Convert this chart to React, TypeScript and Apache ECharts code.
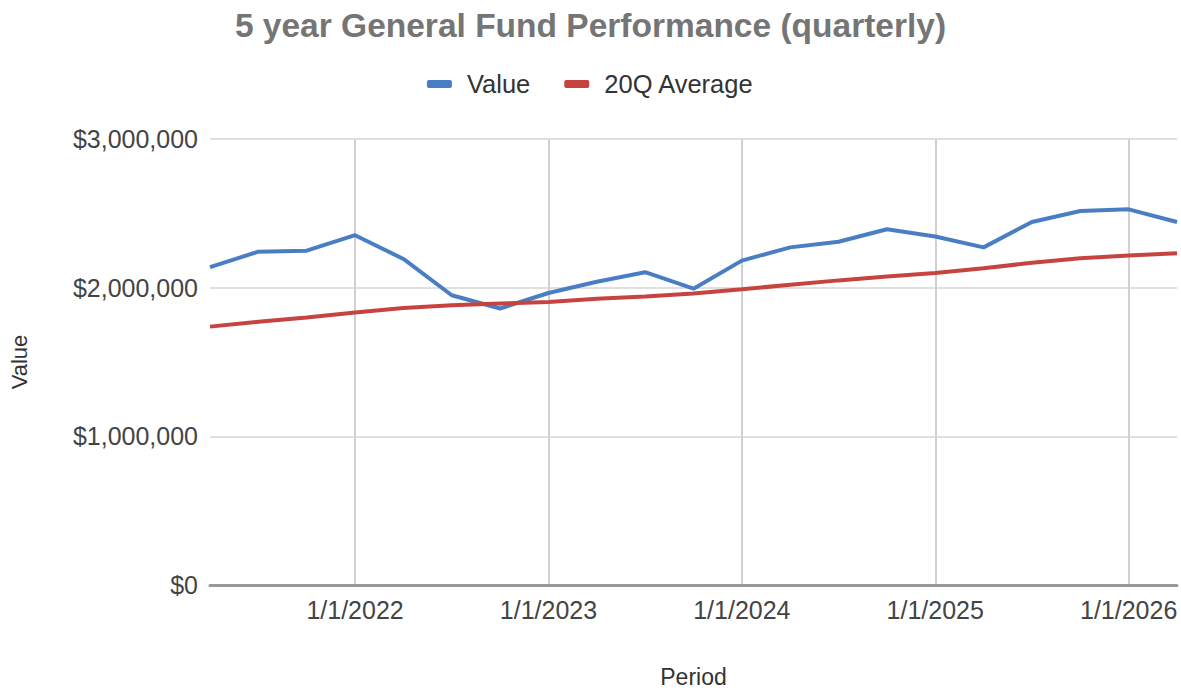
import React, { useEffect, useRef } from "react";
import * as echarts from "echarts";

const periods: string[] = [
  "4/1/2021", "7/1/2021", "10/1/2021",
  "1/1/2022", "4/1/2022", "7/1/2022", "10/1/2022",
  "1/1/2023", "4/1/2023", "7/1/2023", "10/1/2023",
  "1/1/2024", "4/1/2024", "7/1/2024", "10/1/2024",
  "1/1/2025", "4/1/2025", "7/1/2025", "10/1/2025",
  "1/1/2026", "4/1/2026",
];

const valueSeries: number[] = [
  2138000, 2242000, 2249000, 2353000, 2193000, 1949000, 1860000,
  1964000, 2040000, 2104000, 1993000, 2182000, 2271000, 2309000,
  2393000, 2344000, 2271000, 2442000, 2516000, 2527000, 2442000,
];

const averageSeries: number[] = [
  1738000, 1770000, 1800000, 1833000, 1864000, 1882000, 1893000,
  1904000, 1925000, 1940000, 1960000, 1989000, 2020000, 2049000,
  2075000, 2098000, 2131000, 2167000, 2198000, 2216000, 2231000,
];

const yTicks: number[] = [0, 1000000, 2000000, 3000000];

const FONT = "'Liberation Sans', Arial, Helvetica, sans-serif";

export default function App() {
  const ref = useRef<HTMLDivElement>(null);

  useEffect(() => {
    if (!ref.current) return;
    const chart = echarts.init(ref.current, null, { renderer: "svg" });
    const isYearStart = (_i: number, v: string) => v.startsWith("1/1/");
    chart.setOption({
      animation: false,
      textStyle: { fontFamily: FONT },
      title: {
        text: "5 year General Fund Performance (quarterly)",
        left: "center",
        top: 3,
        textStyle: { fontSize: 33.5, fontWeight: "bold", color: "#757575", fontFamily: FONT },
      },
      legend: {
        top: 66,
        left: "center",
        itemWidth: 25,
        itemHeight: 8,
        itemGap: 34,
        icon: "roundRect",
        textStyle: { fontSize: 25.5, color: "#333", fontFamily: FONT, padding: [0, 0, 0, 10] },
        data: ["Value", "20Q Average"],
      },
      grid: { left: 207, right: 4, top: 139, bottom: 104, containLabel: false },
      xAxis: {
        type: "category",
        data: periods,
        boundaryGap: false,
        name: "Period",
        nameLocation: "middle",
        nameGap: 80,
        nameTextStyle: { fontSize: 23, color: "#333", fontFamily: FONT },
        axisLine: { show: true, lineStyle: { color: "#999", width: 3 } },
        axisTick: { show: false },
        axisLabel: {
          interval: isYearStart,
          fontSize: 25,
          color: "#444",
          margin: 12,
          fontFamily: FONT,
        },
        splitLine: {
          show: true,
          interval: isYearStart,
          lineStyle: { color: "#d0d0d0", width: 2 },
        },
      },
      yAxis: {
        type: "value",
        min: yTicks[0],
        max: yTicks[yTicks.length - 1],
        interval: 1000000,
        name: "Value",
        nameLocation: "middle",
        nameGap: 180,
        nameTextStyle: { fontSize: 22, color: "#333", fontFamily: FONT },
        axisLine: { show: false },
        axisTick: { show: false },
        axisLabel: {
          fontSize: 25,
          color: "#444",
          margin: 12,
          fontFamily: FONT,
          formatter: (v: number) => "$" + v.toLocaleString("en-US"),
        },
        splitLine: { show: true, lineStyle: { color: "#e0e0e0", width: 2 } },
      },
      series: [
        {
          name: "Value",
          type: "line",
          data: valueSeries,
          showSymbol: false,
          smooth: false,
          itemStyle: { color: "#4a7ec4" },
          lineStyle: { color: "#4a7ec4", width: 4 },
        },
        {
          name: "20Q Average",
          type: "line",
          data: averageSeries,
          showSymbol: false,
          smooth: false,
          itemStyle: { color: "#c7433f" },
          lineStyle: { color: "#c7433f", width: 4 },
        },
      ],
    });
    return () => chart.dispose();
  }, []);

  return (
    <div
      ref={ref}
      style={{ position: "fixed", left: 0, top: 0, width: 1181, height: 693, background: "#fff" }}
    />
  );
}
